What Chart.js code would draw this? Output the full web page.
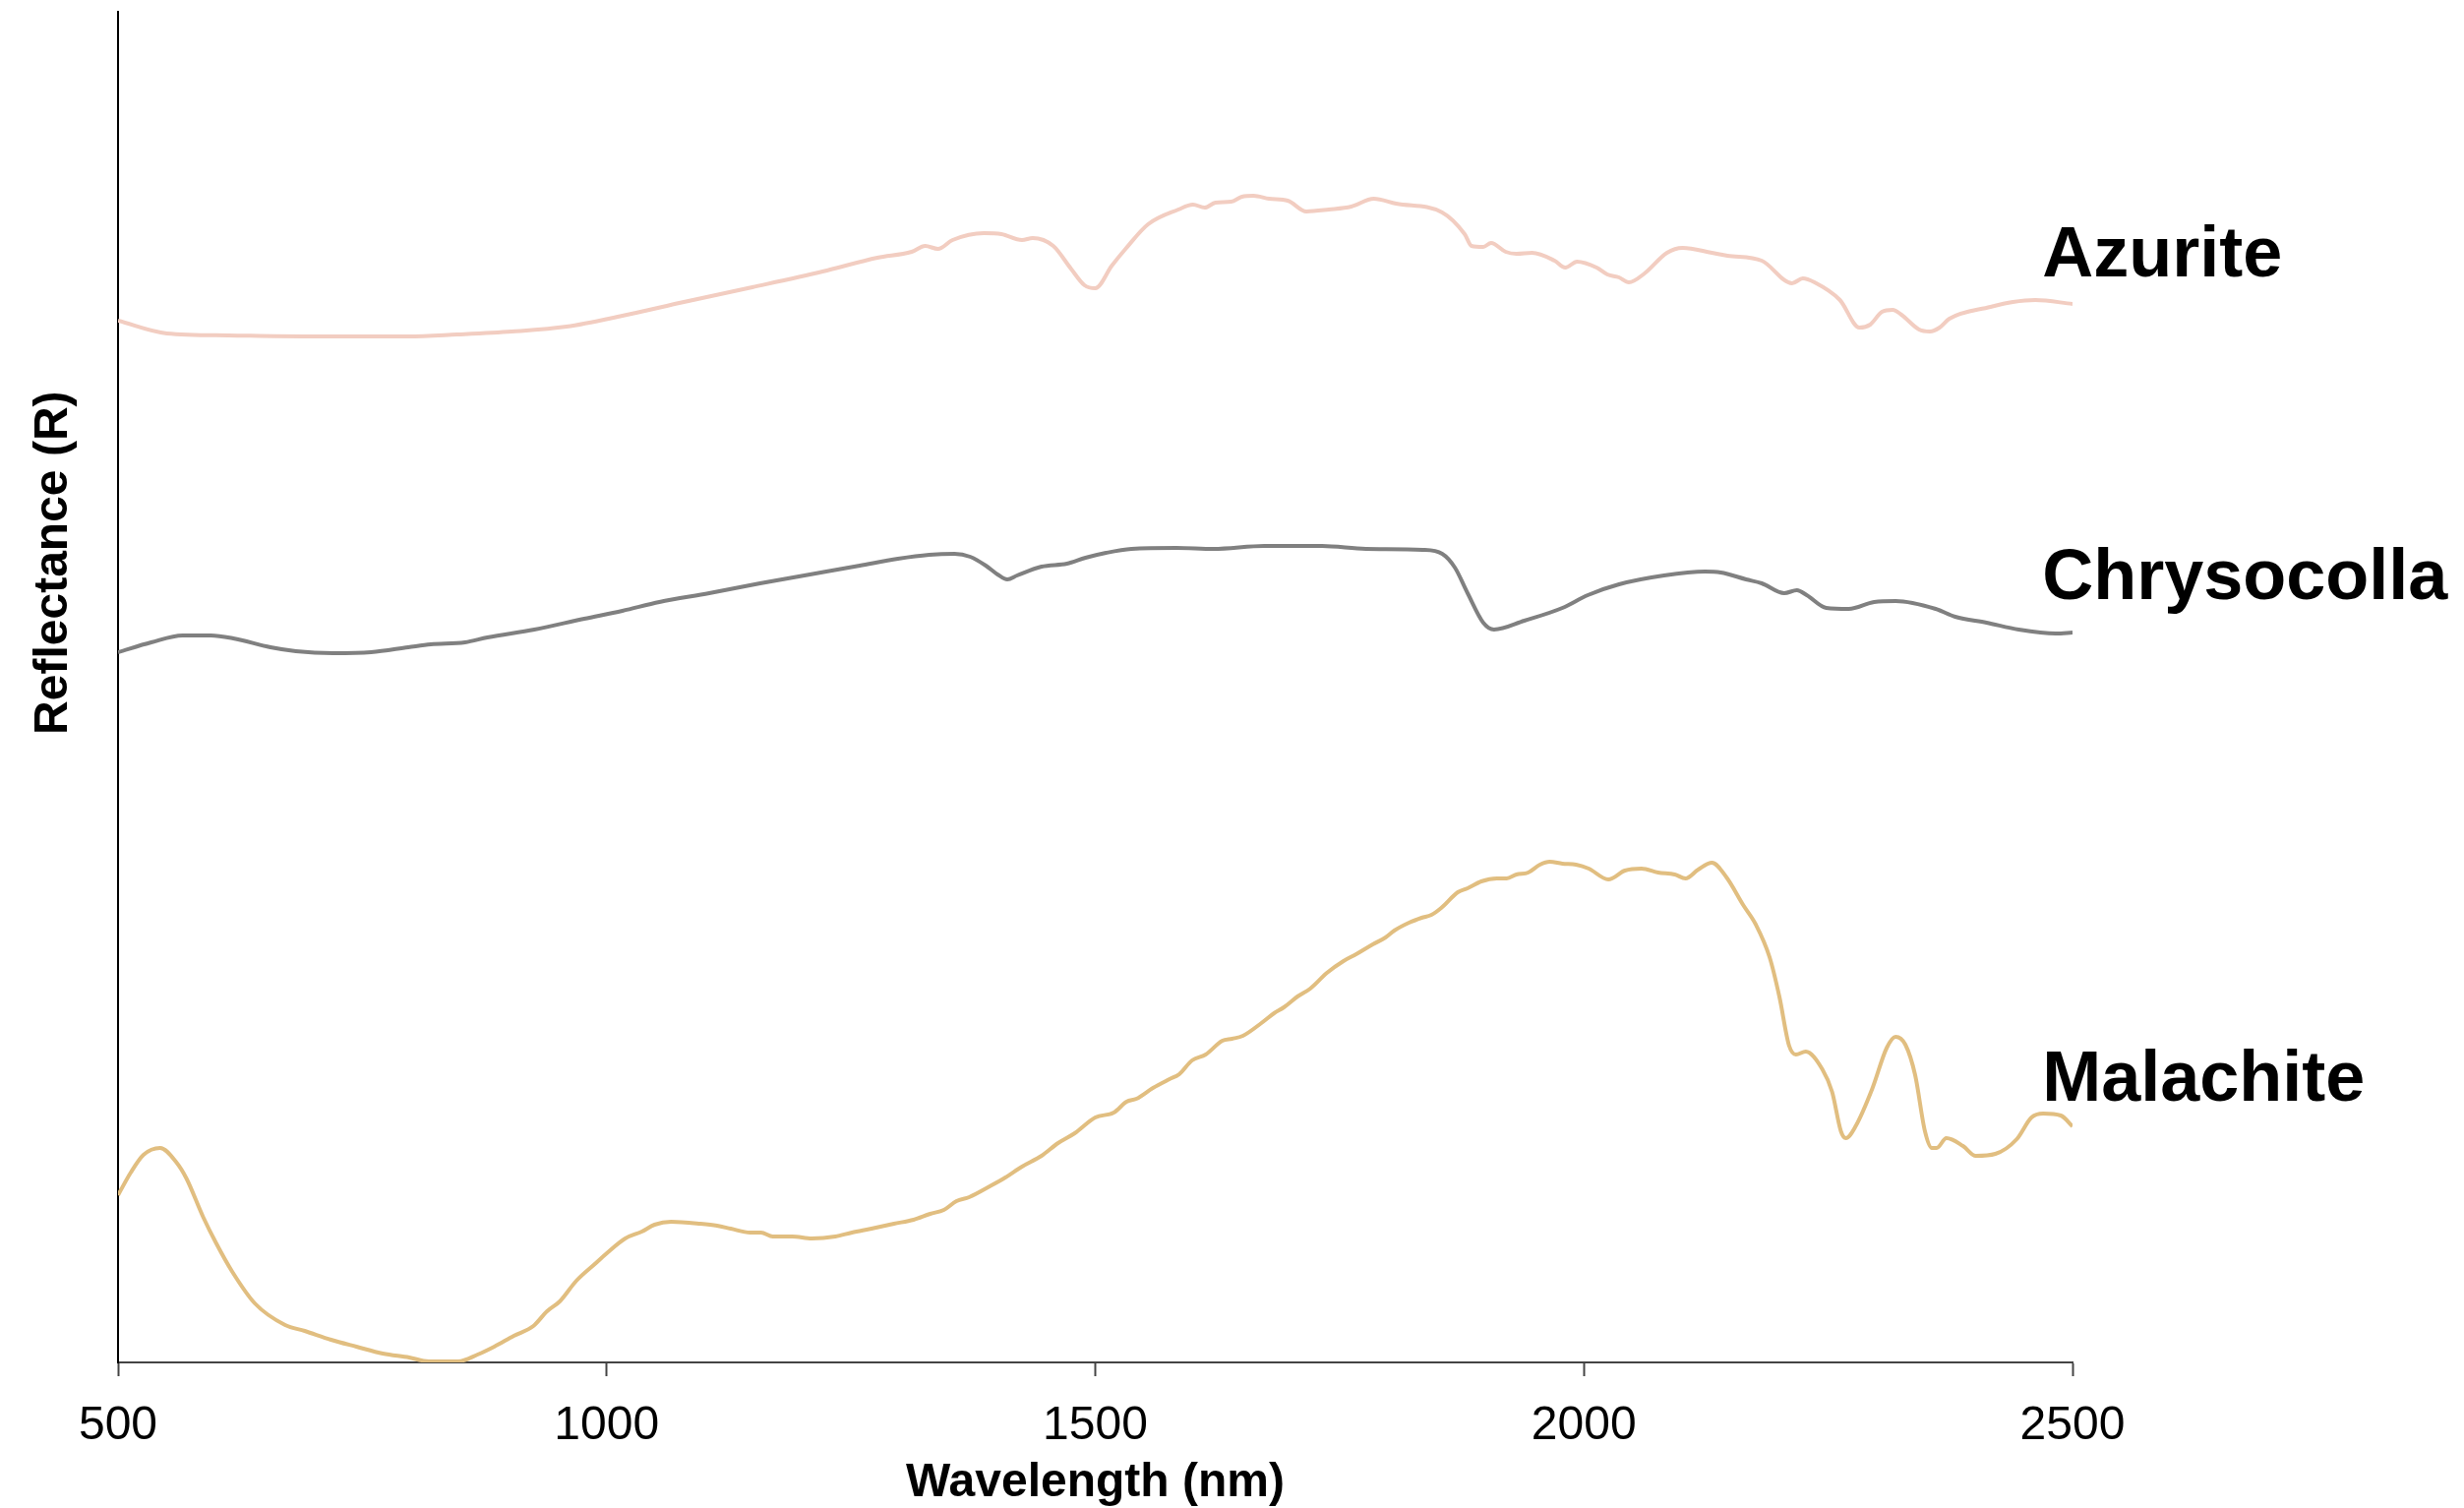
<!DOCTYPE html>
<html>
<head>
<meta charset="utf-8">
<script src="https://cdn.jsdelivr.net/npm/chart.js@4/dist/chart.umd.min.js"></script>
<style>
html,body{margin:0;padding:0;background:#fff;}
#wrap{width:2505px;height:1533px;position:relative;}
</style>
</head>
<body>
<div id="wrap"><canvas id="c"></canvas></div>
<script>
// Wavelength (nm) and relative reflectance (arbitrary units, curves offset for display)
const azuriteWl = [500,550,613,690,797,847,903,959,1016,1079,1149,1221,1277,1312,1326,1339,1354,1386,1404,1425,1436,1457,1475,1489,1500,1517,1531,1554,1585,1600,1612,1623,1639,1650,1662,1678,1697,1716,1739,1762,1785,1808,1855,1878,1885,1897,1905,1920,1931,1947,1970,1981,1993,2013,2024,2036,2046,2062,2085,2101,2131,2147,2182,2213,2224,2236,2262,2282,2293,2305,2316,2325,2343,2354,2364,2374,2416,2439,2462,2500];
const azuriteR = [1059,1046,1044,1043,1043,1045,1048,1053,1064,1078,1093,1109,1123,1129,1135,1132,1141,1148,1147,1141,1143,1135,1112,1095,1092,1115,1132,1157,1172,1177,1174,1179,1180,1185,1186,1183,1181,1170,1172,1175,1183,1178,1169,1147,1135,1134,1138,1129,1127,1128,1120,1113,1119,1113,1106,1103,1098,1107,1128,1133,1128,1125,1120,1097,1102,1098,1080,1052,1055,1068,1070,1065,1050,1048,1052,1061,1073,1078,1080,1076];

const chrysocollaWl = [500,534,566,595,618,656,682,720,759,797,820,855,878,926,977,1016,1054,1105,1157,1208,1259,1298,1330,1356,1372,1388,1400,1410,1420,1445,1471,1490,1511,1537,1583,1621,1673,1732,1777,1835,1855,1868,1881,1897,1908,1939,1978,2004,2036,2082,2124,2140,2166,2182,2205,2218,2228,2248,2271,2297,2319,2360,2380,2412,2445,2483,2500];
const chrysocollaR = [722,732,739,739,736,727,723,721,722,727,730,732,737,745,756,764,773,782,792,801,810,817,821,822,819,810,801,796,800,809,812,818,823,827,828,827,830,830,827,826,822,808,782,752,745,754,767,780,791,800,804,803,796,792,782,785,780,767,766,773,774,766,758,752,745,741,742];

const malachiteWl = [500,513,526,543,560,570,587,600,617,640,671,691,718,744,771,798,818,848,868,885,905,925,939,952,969,989,999,1019,1036,1049,1066,1096,1113,1127,1147,1158,1170,1190,1210,1234,1251,1271,1294,1314,1331,1345,1358,1371,1392,1408,1425,1445,1462,1479,1500,1519,1532,1542,1559,1576,1586,1599,1613,1630,1640,1651,1670,1683,1693,1707,1720,1737,1754,1767,1784,1797,1806,1821,1834,1844,1854,1871,1881,1895,1911,1921,1931,1943,1955,1965,1978,1992,2005,2025,2042,2059,2076,2093,2104,2117,2131,2146,2163,2176,2190,2200,2210,2217,2227,2244,2254,2263,2268,2278,2295,2310,2319,2329,2339,2349,2356,2361,2371,2388,2401,2421,2443,2458,2470,2488,2500];
const malachiteR = [170,193,211,218,203,187,148,122,92,60,38,32,23,16,9,5,1,1,8,16,27,37,52,62,83,101,110,126,133,140,143,141,139,136,132,132,128,128,126,128,132,136,141,145,151,155,164,168,179,188,199,210,223,233,249,254,265,268,279,288,293,307,313,327,329,332,345,355,361,372,380,396,408,415,425,432,439,447,452,455,462,478,482,489,492,492,496,498,506,509,507,506,502,491,500,502,498,496,492,501,508,493,465,445,412,372,322,313,316,298,275,235,228,240,278,320,331,323,292,235,218,218,228,220,210,212,227,249,253,251,240];

const xTicks = [500,1000,1500,2000,2500];
const labelNames = ['Azurite','Chrysocolla','Malachite'];
const labelWl = [2469,2469,2469];
const labelR = [1104,776,266];
const yTitleText = 'Reflectance (R)';
const xTitleText = 'Wavelength (nm)';

const FONT = '"Liberation Sans", Arial, Helvetica, sans-serif';

function pts(wl, r){ return wl.map((w,i)=>({x:w, y:r[i]})); }

const annot = {
  id: 'annot',
  afterDraw(chart){
    const {ctx, chartArea, scales:{x, y}} = chart;
    ctx.save();
    ctx.fillStyle = '#000';
    ctx.font = 'bold 72px ' + FONT;
    ctx.textAlign = 'left';
    ctx.textBaseline = 'alphabetic';
    labelNames.forEach((n,i)=>{
      ctx.fillText(n, x.getPixelForValue(labelWl[i]), y.getPixelForValue(labelR[i]));
    });
    ctx.restore();
    ctx.save();
    ctx.fillStyle = '#000';
    ctx.font = 'bold 48px ' + FONT;
    ctx.textAlign = 'center';
    ctx.textBaseline = 'middle';
    const cy = chartArea.top + (chartArea.bottom - chartArea.top) * 0.408;
    ctx.translate(chartArea.left - 65, cy);
    ctx.rotate(-Math.PI/2);
    ctx.fillText(yTitleText, 0, 0);
    ctx.restore();
  }
};

new Chart(document.getElementById('c'), {
  type: 'line',
  data: {
    datasets: [
      {label:'Azurite', data: pts(azuriteWl, azuriteR), borderColor:'#f2cdc1', borderWidth:4, pointRadius:0, cubicInterpolationMode:'monotone', fill:false},
      {label:'Chrysocolla', data: pts(chrysocollaWl, chrysocollaR), borderColor:'#808080', borderWidth:4, pointRadius:0, cubicInterpolationMode:'monotone', fill:false},
      {label:'Malachite', data: pts(malachiteWl, malachiteR), borderColor:'#e1be80', borderWidth:4, pointRadius:0, cubicInterpolationMode:'monotone', fill:false}
    ]
  },
  options: {
    responsive: true,
    maintainAspectRatio: false,
    animation: false,
    devicePixelRatio: 1,
    layout: { padding: { top: 12, right: 398, bottom: 0, left: 0 } },
    plugins: { legend: {display:false}, tooltip: {enabled:false} },
    scales: {
      x: {
        type: 'linear', min: 500, max: 2500,
        afterBuildTicks: s => { s.ticks = xTicks.map(v => ({value: v})); },
        ticks: { font: {family: FONT, size: 48}, color: '#000', padding: 22, maxRotation: 0, autoSkip: false,
                 callback: v => String(v) },
        grid: { display: true, drawOnChartArea: false, drawTicks: true, tickLength: 14, tickColor: '#444', tickWidth: 2 },
        border: { display: true, color: '#444', width: 2 },
        title: { display: true, text: xTitleText, color: '#000', font: {family: FONT, size: 48, weight: 'bold', lineHeight: 1.05}, padding: {top: 0, bottom: 0} },
        afterFit: s => { s.height = 148; }
      },
      y: {
        min: 0, max: 1373,
        ticks: { display: false },
        grid: { display: false },
        border: { display: true, color: '#000', width: 2 },
        afterFit: s => { s.width = 120; }
      }
    }
  },
  plugins: [annot]
});
</script>
</body>
</html>
